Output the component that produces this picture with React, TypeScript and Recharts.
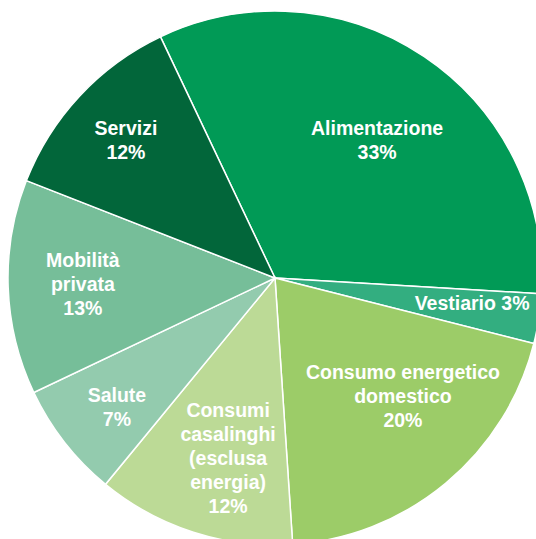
import React from 'react';
import { PieChart, Pie, Cell } from 'recharts';

const categories = [
  'Alimentazione',
  'Vestiario',
  'Consumo energetico\ndomestico',
  'Consumi\ncasalinghi\n(esclusa\nenergia)',
  'Salute',
  'Mobilità\nprivata',
  'Servizi',
];
const shares = [33, 3, 20, 12, 7, 13, 12];
const colors = ['#019a56', '#33ae80', '#9ccc68', '#bcda96', '#93cbae', '#76be99', '#02663a'];

// label placement tweaks (fraction of radius, angle shift in degrees)
const labelRadius = [0.643, 0.744, 0.652, 0.697, 0.764, 0.72, 0.761];
const labelShift = [-2.5, 1.6, 7.5, 3.2, 1.2, -0.2, 0.2];
const inlinePct = [false, true, false, false, false, false, false];

const data = categories.map((name, i) => ({ name, value: shares[i] }));

const RAD = Math.PI / 180;

const renderLabel = (props: any) => {
  const { cx, cy, midAngle, outerRadius, index } = props;
  const r = outerRadius * labelRadius[index];
  const a = (midAngle + labelShift[index]) * RAD;
  const x = cx + r * Math.cos(-a);
  const y = cy + r * Math.sin(-a);
  const parts = categories[index].split('\n');
  const lines = inlinePct[index]
    ? [`${parts[0]} ${shares[index]}%`]
    : [...parts, `${shares[index]}%`];
  const lh = 24;
  const top = y - ((lines.length - 1) * lh) / 2;
  return (
    <text
      x={x}
      y={top}
      fill="#fff"
      textAnchor="middle"
      dominantBaseline="central"
      fontFamily="'Liberation Sans', Arial, sans-serif"
      fontWeight="bold"
      fontSize={19.5}
    >
      {lines.map((l, i) => (
        <tspan key={i} x={x} y={top + i * lh}>
          {l}
        </tspan>
      ))}
    </text>
  );
};

const App: React.FC = () => {
  return (
    <div style={{ position: 'absolute', left: 0, top: 0, width: 536, height: 539, overflow: 'hidden', background: '#fff' }}>
      <PieChart width={536} height={539} margin={{ top: 0, right: 0, bottom: 0, left: 0 }}>
        <Pie
          data={data}
          dataKey="value"
          nameKey="name"
          cx={275}
          cy={278}
          innerRadius={0}
          outerRadius={267}
          startAngle={115.4}
          endAngle={-244.6}
          stroke="#fff"
          strokeWidth={1.5}
          label={renderLabel}
          labelLine={false}
          isAnimationActive={false}
        >
          {data.map((d, i) => (
            <Cell key={d.name} fill={colors[i]} />
          ))}
        </Pie>
      </PieChart>
    </div>
  );
};

export default App;
